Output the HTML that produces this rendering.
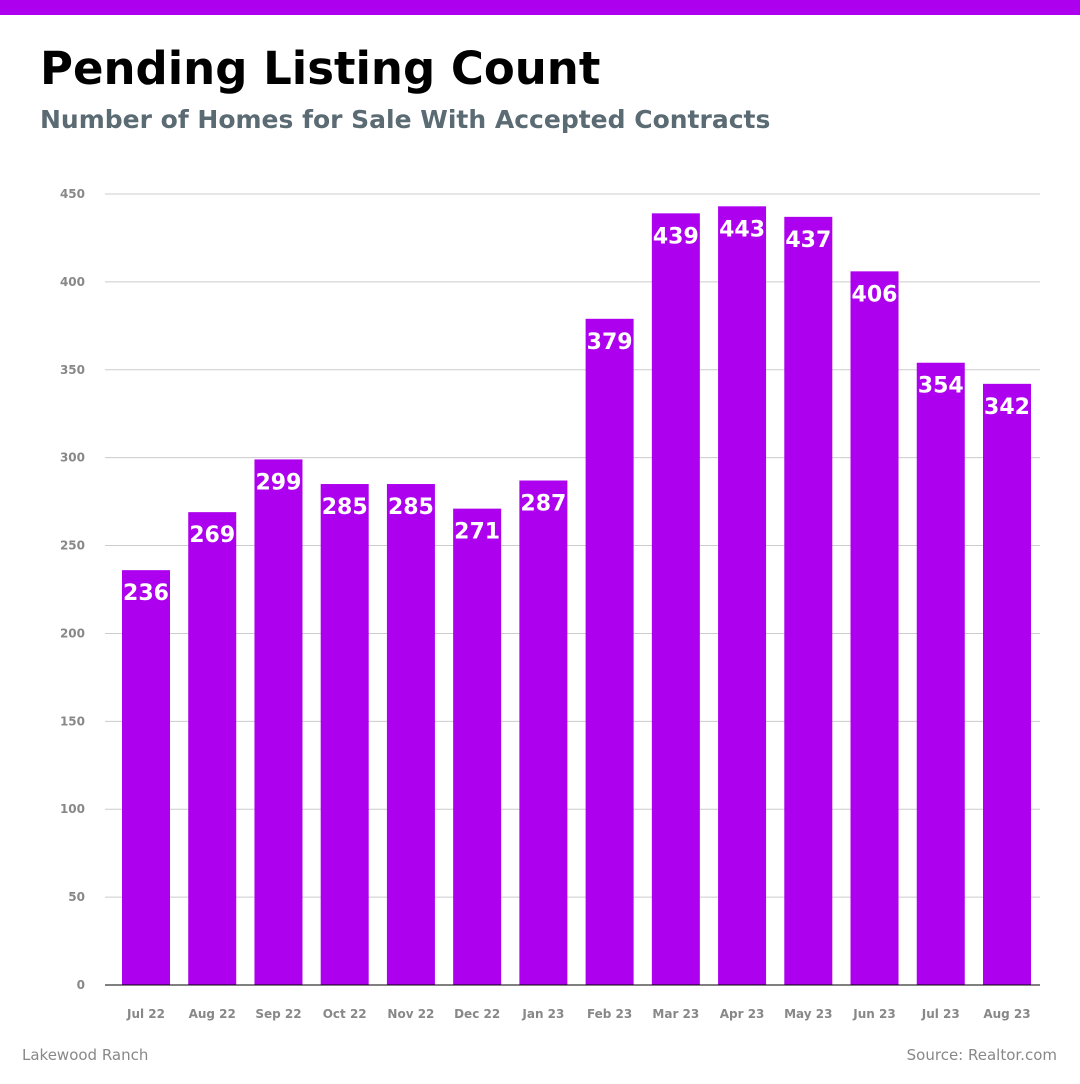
<!DOCTYPE html>
<html><head><meta charset="utf-8">
<style>
body{margin:0;width:1080px;height:1080px;background:#fff;overflow:hidden;font-family:"DejaVu Sans","Liberation Sans",sans-serif;}
</style></head>
<body>
<svg id="chart" width="1080" height="1080" xmlns="http://www.w3.org/2000/svg" style="font-family:'DejaVu Sans','Liberation Sans',sans-serif">
<rect x="0" y="0" width="1080" height="15" fill="#ad00ee"/>
<text x="40" y="84" font-size="45" font-weight="bold" fill="#000">Pending Listing Count</text>
<text x="40" y="128" font-size="25" font-weight="bold" fill="#5b6b73">Number of Homes for Sale With Accepted Contracts</text>
<g id="grid"></g>
<g id="bars"></g>
<text x="22" y="1060" font-size="15" fill="#888">Lakewood Ranch</text>
<text x="1057" y="1060" font-size="15" fill="#888" text-anchor="end">Source: Realtor.com</text>
</svg>
<script>
const categories = ["Jul 22","Aug 22","Sep 22","Oct 22","Nov 22","Dec 22","Jan 23","Feb 23","Mar 23","Apr 23","May 23","Jun 23","Jul 23","Aug 23"];
const values = [236,269,299,285,285,271,287,379,439,443,437,406,354,342];
const yTicks = [0,50,100,150,200,250,300,350,400,450];

const NS = "http://www.w3.org/2000/svg";
const y0 = 985, yTop = 194, yMax = 450;
function y(v){ return y0 - (v / yMax) * (y0 - yTop); }
function x(i){ return 146 + i * 66.23; }
const barW = 48;

const grid = document.getElementById('grid');
yTicks.forEach(t => {
  const ln = document.createElementNS(NS,'line');
  
  
  ln.setAttribute('x1',105); ln.setAttribute('x2',1040);
  ln.setAttribute('y1',y(t)); ln.setAttribute('y2',y(t));
  ln.setAttribute('stroke', t === 0 ? '#000' : '#cccccc');
  ln.setAttribute('stroke-width',1);
  grid.appendChild(ln);
  const tx = document.createElementNS(NS,'text');
  
  
  tx.setAttribute('x',85); tx.setAttribute('y',y(t)+4);
  tx.setAttribute('text-anchor','end');
  tx.setAttribute('font-size','12'); tx.setAttribute('font-weight','bold');
  tx.setAttribute('fill','#888');
  tx.textContent = t;
  grid.appendChild(tx);
});

const bars = document.getElementById('bars');
values.forEach((v,i) => {
  const r = document.createElementNS(NS,'rect');
  
  
  r.setAttribute('x', x(i) - barW/2); r.setAttribute('y', y(v));
  r.setAttribute('width', barW); r.setAttribute('height', y0 - y(v));
  r.setAttribute('fill','#ad00ee');
  bars.appendChild(r);
  const lb = document.createElementNS(NS,'text');
  
  
  lb.setAttribute('x', x(i)); lb.setAttribute('y', y(v) + 30);
  lb.setAttribute('text-anchor','middle');
  lb.setAttribute('font-size','22'); lb.setAttribute('font-weight','bold');
  lb.setAttribute('fill','#fff');
  lb.textContent = v;
  bars.appendChild(lb);
  const xl = document.createElementNS(NS,'text');
  
  
  xl.setAttribute('x', x(i)); xl.setAttribute('y', 1018);
  xl.setAttribute('text-anchor','middle');
  xl.setAttribute('font-size','12'); xl.setAttribute('font-weight','bold');
  xl.setAttribute('fill','#888');
  xl.textContent = categories[i];
  bars.appendChild(xl);
});
const base = document.createElementNS(NS,'line');


base.setAttribute('x1',105); base.setAttribute('x2',1040);
base.setAttribute('y1',y0); base.setAttribute('y2',y0);
base.setAttribute('stroke','#000');
bars.appendChild(base);
</script>
</body></html>
